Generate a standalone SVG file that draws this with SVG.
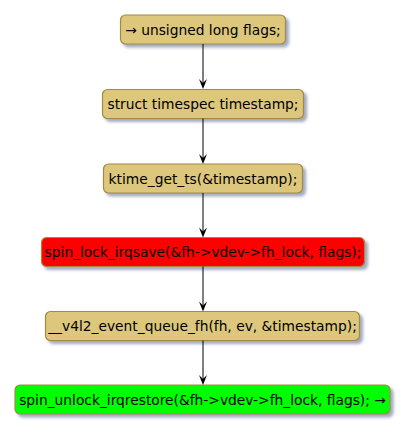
<svg xmlns="http://www.w3.org/2000/svg" width="408" height="433" viewBox="0 0 408 433">
<defs>
<filter id="sh" x="-10%" y="-30%" width="130%" height="190%">
<feGaussianBlur in="SourceAlpha" stdDeviation="1.5" result="b"/>
<feOffset dx="3" dy="3" result="o"/>
<feFlood flood-color="#8a96b0" flood-opacity="0.8"/>
<feComposite in2="o" operator="in" result="s"/>
<feMerge><feMergeNode in="s"/><feMergeNode in="SourceGraphic"/></feMerge>
</filter>
</defs>
<style>
rect{stroke:#A38A3F;stroke-width:1.2;filter:url(#sh)}
.n rect{fill:#DCC77D}
text{font-family:"DejaVu Sans",sans-serif;font-size:13.8px;fill:#000;text-anchor:middle}
.c line{stroke:#000;stroke-width:1}
.c polygon{fill:#000}
</style>
<rect width="408" height="433" fill="#fff" style="stroke:none;filter:none"/>
<g class="n" id="n1"><rect x="120.5" y="15" width="165" height="29" rx="5"/><text x="203" y="34.5">→ unsigned long flags;</text></g>
<g class="n" id="n2"><rect x="102.5" y="89.5" width="201" height="29" rx="5"/><text x="203" y="109">struct timespec timestamp;</text></g>
<g class="n" id="n3"><rect x="103.5" y="164" width="199" height="29" rx="5"/><text x="203" y="183.5">ktime_get_ts(&amp;timestamp);</text></g>
<g id="n4"><rect x="41.5" y="237.5" width="323" height="29" rx="5" fill="#FF0000"/><text x="203" y="257">spin_lock_irqsave(&amp;fh-&gt;vdev-&gt;fh_lock, flags);</text></g>
<g class="n" id="n5"><rect x="45.5" y="311.5" width="314" height="29" rx="5"/><text x="202.5" y="331">__v4l2_event_queue_fh(fh, ev, &amp;timestamp);</text></g>
<g id="n6"><rect x="15" y="385" width="375" height="29" rx="5" fill="#00FF00"/><text x="202.5" y="404.5">spin_unlock_irqrestore(&amp;fh-&gt;vdev-&gt;fh_lock, flags); →</text></g>
<g class="c" id="connectors">
<line x1="203" y1="44" x2="203" y2="84"/><polygon points="199,79 203,89 207,79 203,83"/>
<line x1="203" y1="118.5" x2="203" y2="159"/><polygon points="199,154 203,164 207,154 203,158"/>
<line x1="203" y1="193" x2="203" y2="232"/><polygon points="199,227.5 203,237.5 207,227.5 203,231.5"/>
<line x1="203" y1="266.5" x2="203" y2="306"/><polygon points="199,301.5 203,311.5 207,301.5 203,305.5"/>
<line x1="203" y1="340.5" x2="203" y2="380"/><polygon points="199,375 203,385 207,375 203,379"/>
</g>
</svg>
